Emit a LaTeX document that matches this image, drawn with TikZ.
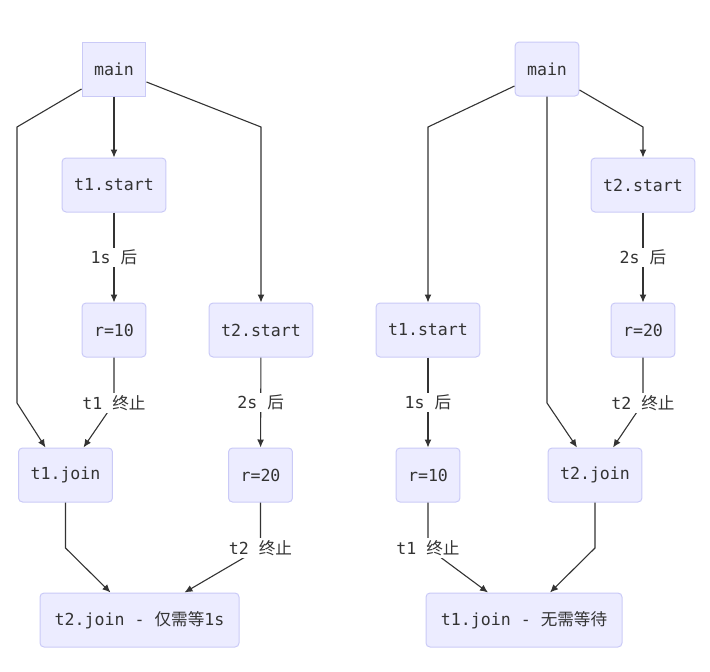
\documentclass[tikz,border=0pt]{standalone}
\usepackage{fontspec}
\setmonofont{DejaVu Sans Mono}
\newfontfamily\cjk{Noto Sans CJK SC}
\usetikzlibrary{arrows.meta}
\definecolor{boxfill}{HTML}{ECECFF}
\definecolor{boxdraw}{HTML}{CACAF7}
\definecolor{linegray}{HTML}{333333}
\newcommand\zh[1]{{\cjk #1}}
\tikzset{
	>=latex, % default arrow head
	box/.style={draw=boxdraw,fill=boxfill,rounded corners=4,line width=1,minimum height=54,inner xsep=12,
		text=linegray,font=\ttfamily\fontsize{16.6}{19}\selectfont},
	connect/.style={line width=1.1,linegray},
	connect arrow/.style={connect,-{Latex[length=8,width=7]}},
	lbl/.style={fill=white,text=linegray,inner sep=2,font=\ttfamily\fontsize{16.6}{19}\selectfont}
}

\begin{document}
\begin{tikzpicture}[x=1pt,y=-1pt]
  \useasboundingbox (0,0) rectangle (710,672);
  
  % LEFT: t1 first, then t2
  \node[box,sharp corners] (Lmain) at (114,69) {main};
  \foreach \n/\x/\y/\t in {Lt1start/114/185/t1.start, Lr10/114/330/r=10, Lt2start/261/330/t2.start,
                           Lt1join/65.5/475/t1.join, Lr20/260.5/475/r=20}{ % loop over nodes
    \node[box] (\n) at (\x,\y) {\t};
  }
  \node[box,minimum width=199] (Lt2join) at (139.5,620) {t2.join - \zh{仅需等}1s};
  
  \draw[connect arrow] (Lmain) -- (Lt1start);
  \draw[connect arrow] ([yshift=-20]Lmain.west) -- (17,127) -- (17,403) -- ([xshift=-20]Lt1join.north);
  \draw[connect arrow] ([yshift=-13]Lmain.east) -- (261,127) -- (Lt2start);
  \draw[connect arrow] (Lt1start) -- node[lbl] {1s \zh{后}} (Lr10);
  \draw[connect arrow] (Lr10) -- (114,403) node[lbl] {t1 \zh{终止}} -- ([xshift=18]Lt1join.north);
  \draw[connect arrow] (Lt2start) -- node[lbl] {2s \zh{后}} (Lr20);
  \draw[connect arrow] (Lt1join) -- (65.5,548) -- ([xshift=-29]Lt2join.north);
  \draw[connect arrow] (Lr20) -- (260.5,548) node[lbl] {t2 \zh{终止}} -- ([xshift=45]Lt2join.north);
  
  % RIGHT: t2 first, then t1
  \foreach \n/\x/\y/\t in {Rmain/547/69/main, Rt2start/643/185/t2.start, Rr20/643/330/r=20,
                           Rt1start/428/330/t1.start, Rr10/428/475/r=10, Rt2join/595/475/t2.join}{ % loop over nodes
    \node[box] (\n) at (\x,\y) {\t};
  }
  \node[box,minimum width=196] (Rt1join) at (524,620) {t1.join - \zh{无需等待}};
  
  \draw[connect arrow] ([yshift=-17]Rmain.west) -- (428,127) -- (Rt1start);
  \draw[connect arrow] (Rmain) -- (547,403) -- ([xshift=-18]Rt2join.north);
  \draw[connect arrow] ([yshift=-21]Rmain.east) -- (643,127) -- (Rt2start);
  \draw[connect arrow] (Rt2start) -- node[lbl] {2s \zh{后}} (Rr20);
  \draw[connect arrow] (Rr20) -- (643,403) node[lbl] {t2 \zh{终止}} -- ([xshift=18]Rt2join.north);
  \draw[connect arrow] (Rt1start) -- node[lbl] {1s \zh{后}} (Rr10);
  \draw[connect arrow] (Rr10) -- (428,548) node[lbl] {t1 \zh{终止}} -- ([xshift=-36]Rt1join.north);
  \draw[connect arrow] (Rt2join) -- (595,548) -- ([xshift=26]Rt1join.north);
  
\end{tikzpicture}
\end{document}
